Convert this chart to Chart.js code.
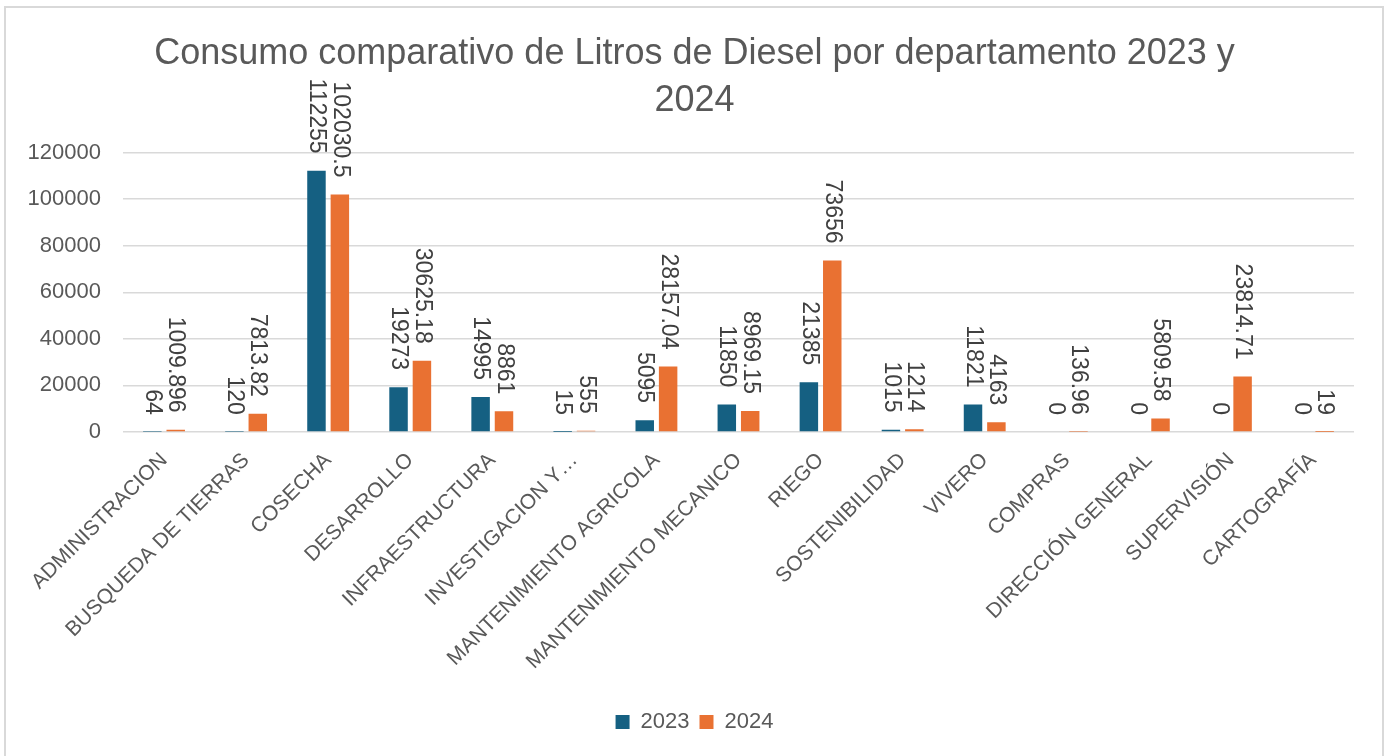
<!DOCTYPE html>
<html>
<head>
<meta charset="utf-8">
<script src="https://cdn.jsdelivr.net/npm/chart.js@4/dist/chart.umd.min.js"></script>
<style>
  html, body { margin: 0; padding: 0; background: #fff; overflow: hidden; }
  .frame { position: absolute; left: 4px; top: 6px; width: 1376px; height: 800px; border: 2px solid #d9d9d9; }
  #myChart { position: absolute; left: 0; top: 0; }
</style>
</head>
<body>
<div class="frame"></div>
<canvas id="myChart" width="1389" height="756"></canvas>
<script>
'use strict';

// Data
const categories = ['ADMINISTRACION', 'BUSQUEDA DE TIERRAS', 'COSECHA', 'DESARROLLO', 'INFRAESTRUCTURA',
  'INVESTIGACION Y…', 'MANTENIMIENTO AGRICOLA', 'MANTENIMIENTO MECANICO', 'RIEGO', 'SOSTENIBILIDAD',
  'VIVERO', 'COMPRAS', 'DIRECCIÓN GENERAL', 'SUPERVISIÓN', 'CARTOGRAFÍA'];
const litros2023 = [64, 120, 112255, 19273, 14995, 15, 5095, 11850, 21385, 1015, 11821, 0, 0, 0, 0];
const litros2024 = [1009.896, 7813.82, 102030.5, 30625.18, 8861, 555, 28157.04, 8969.15, 73656, 1214, 4163, 136.96, 5809.58, 23814.71, 19];
const yMin = 0;
const yMax = 120000;
const yStep = 20000;
const titleLines = ['Consumo comparativo de Litros de Diesel por departamento 2023 y', '2024'];

const ctx = document.getElementById('myChart');
const fontName = '"Liberation Sans", Arial, sans-serif';
const greyText = '#595959';

// value labels, rotated, above each bar
const barLabels = {
  id: 'barLabels',
  afterDatasetsDraw(chart){
    const c = chart.ctx;
    chart.data.datasets.forEach((ds, i) => {
      const meta = chart.getDatasetMeta(i);
      meta.data.forEach((bar, j) => {
        c.save();
        c.translate(bar.x, bar.y - 17);
        c.rotate(Math.PI / 2);
        c.font = '23px ' + fontName;
        c.fillStyle = '#404040';
        c.textAlign = 'right';
        c.textBaseline = 'middle';
        c.fillText(String(ds.data[j]), 0, 0);
        c.restore();
      });
    });
  }
};

let chartObj = {
  type: 'bar',
  data: {
    labels: categories,
    datasets: [{
      label: '2023',
      data: litros2023,
      backgroundColor: '#156082',
      categoryPercentage: 0.57,
      barPercentage: 0.79
    },
    {
      label: '2024',
      data: litros2024,
      backgroundColor: '#E97132',
      categoryPercentage: 0.57,
      barPercentage: 0.79
    }]
  },
  options: {
    responsive: false,
    animation: false,
    layout: { padding: { left: 0, right: 0, top: 0, bottom: 13 } },
    plugins: {
      title: {
        display: true,
        text: titleLines,
        color: greyText,
        font: { family: fontName, size: 36, weight: 'normal', lineHeight: 1.3 },
        padding: { top: 31, bottom: 28 }
      },
      legend: {
        position: 'bottom',
        labels: {
          color: greyText,
          font: { family: fontName, size: 22 },
          boxWidth: 14,
          boxHeight: 14,
          padding: 10
        }
      },
      tooltip: { enabled: false }
    },
    scales: {
      x: {
        grid: { display: false },
        border: { display: false },
        ticks: {
          color: greyText,
          font: { family: fontName, size: 21 },
          minRotation: 45,
          maxRotation: 45,
          autoSkip: false,
          padding: 8
        },
        afterFit(scale){ scale.height = 269; }
      },
      y: {
        min: yMin,
        max: yMax,
        ticks: {
          stepSize: yStep,
          color: greyText,
          font: { family: fontName, size: 22 },
          padding: 22,
          callback: (value) => String(value)
        },
        grid: { color: '#d9d9d9', lineWidth: 1.5, drawTicks: false },
        border: { display: false },
        afterFit(scale){ scale.width = 123; }
      },
      // empty right margin so title and legend stay centred on the page
      spacer: {
        position: 'right',
        grid: { display: false },
        border: { display: false },
        ticks: { display: false },
        afterFit(scale){ scale.width = 35; }
      }
    }
  },
  plugins: [barLabels]
};

new Chart(ctx, chartObj);
</script>
</body>
</html>
